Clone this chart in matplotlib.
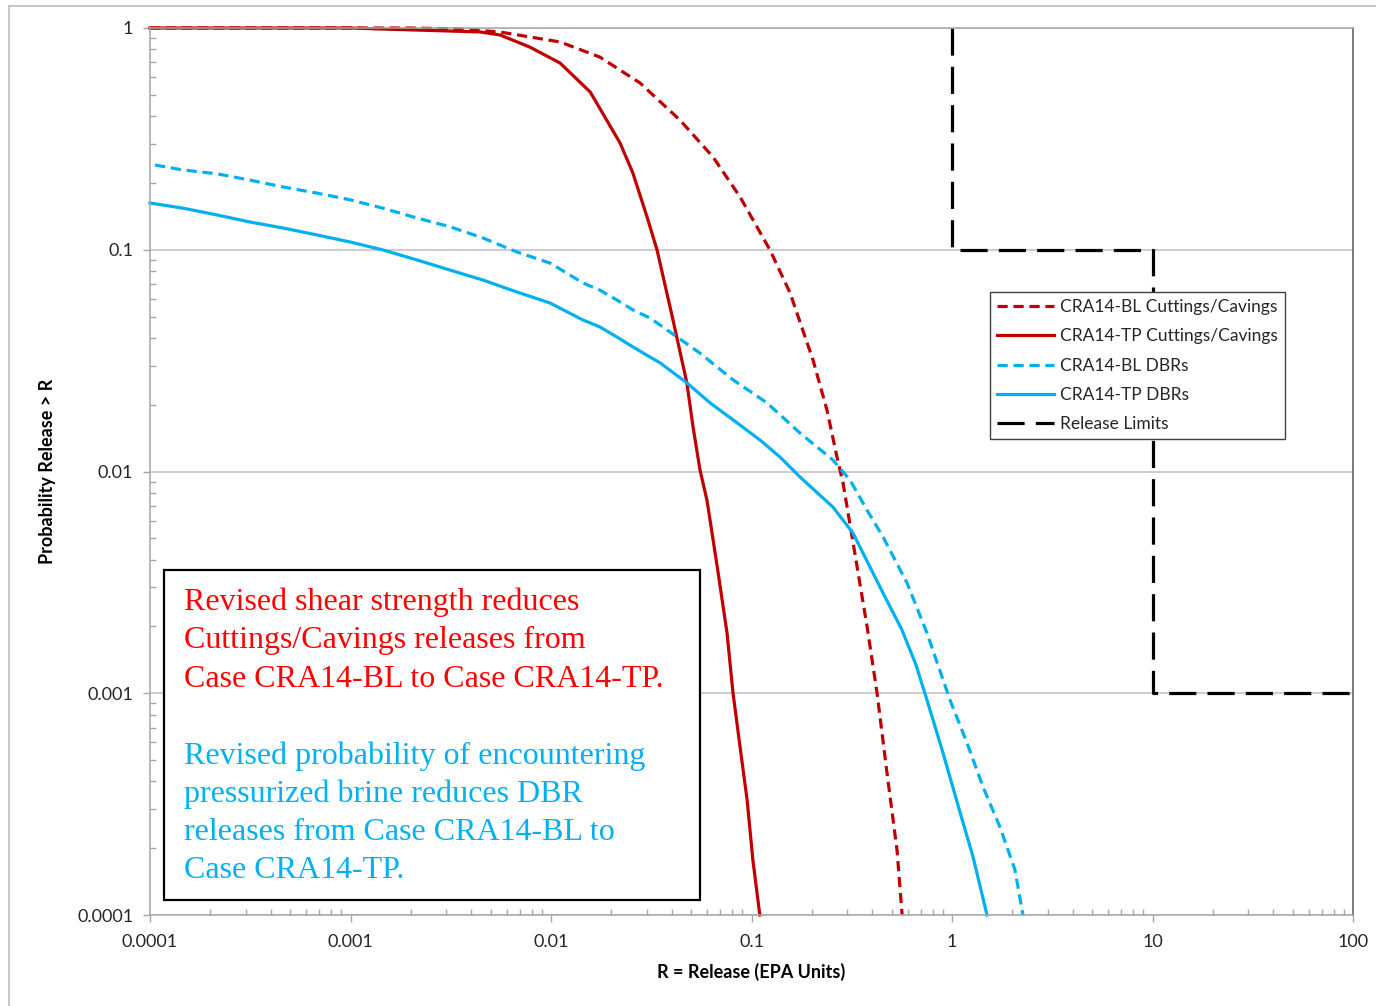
import numpy as np
import matplotlib
matplotlib.use("Agg")
import matplotlib.pyplot as plt
from matplotlib.patches import Rectangle
from matplotlib.lines import Line2D
from matplotlib.ticker import LogLocator, NullFormatter

# CCDF data
bl_cc_x = [0.0001, 0.002, 0.00352, 0.00557, 0.0111, 0.0175, 0.0278, 0.0440, 0.0643, 0.0877,
           0.1236, 0.1556, 0.2027, 0.238, 0.267, 0.286, 0.321, 0.336, 0.377, 0.423, 0.474, 0.532, 0.564]
bl_cc_y = [1.0, 1.0, 0.99, 0.959, 0.865, 0.740, 0.565, 0.384, 0.262, 0.173,
           0.0998, 0.0640, 0.0318, 0.0189, 0.0116, 0.0089, 0.00478, 0.00373, 0.0020, 0.0010, 0.000437, 0.000196, 0.0001]

tp_cc_x = [0.0001, 0.001, 0.0014, 0.00443, 0.00557, 0.00785, 0.0111, 0.0157, 0.0221, 0.0256, 0.0301,
           0.0338, 0.0406, 0.0476, 0.0511, 0.0553, 0.0600, 0.0675, 0.0755, 0.0809, 0.0877, 0.0951, 0.1016, 0.110]
tp_cc_y = [1.0, 1.0, 0.99, 0.96, 0.93, 0.82, 0.695, 0.514, 0.303, 0.222, 0.141,
           0.0998, 0.0482, 0.0251, 0.0159, 0.0102, 0.0074, 0.00371, 0.00187, 0.0010, 0.000573, 0.00033, 0.000177, 0.0001]

bl_dbr_x = [0.000106, 0.000146, 0.000216, 0.000315, 0.00046, 0.000681, 0.000995, 0.00145, 0.00215, 0.00313,
            0.00458, 0.00676, 0.00989, 0.01445, 0.0175, 0.02133, 0.02566, 0.0312, 0.0379, 0.0553, 0.0809,
            0.1194, 0.1746, 0.2548, 0.3097, 0.3767, 0.4529, 0.597, 0.750, 0.977, 1.188, 1.428, 1.735, 2.06, 2.259]
bl_dbr_y = [0.241, 0.229, 0.220, 0.206, 0.192, 0.180, 0.168, 0.154, 0.139, 0.127,
            0.113, 0.0977, 0.0871, 0.0708, 0.0658, 0.0593, 0.0535, 0.0492, 0.0435, 0.0342, 0.0259,
            0.0204, 0.0149, 0.01127, 0.00916, 0.0067, 0.00507, 0.00314, 0.00187, 0.000933, 0.000597, 0.000378, 0.000249, 0.000160, 0.0001]

tp_dbr_x = [0.0001, 0.000146, 0.000216, 0.000315, 0.00046, 0.000681, 0.000995, 0.00145, 0.00215, 0.00313,
            0.00458, 0.00676, 0.00989, 0.01445, 0.0175, 0.02133, 0.0257, 0.0312, 0.035, 0.0476, 0.0621,
            0.0809, 0.1102, 0.1387, 0.1746, 0.2548, 0.3206, 0.4529, 0.56, 0.66, 0.750, 0.902, 1.097, 1.273, 1.495]
tp_dbr_y = [0.1625, 0.154, 0.1435, 0.1334, 0.1254, 0.1166, 0.1084, 0.0998, 0.0899, 0.081,
            0.073, 0.0645, 0.0575, 0.0482, 0.0449, 0.0404, 0.0364, 0.0328, 0.0309, 0.0251, 0.0204,
            0.0171, 0.01387, 0.01162, 0.00944, 0.00691, 0.00528, 0.00283, 0.00195, 0.00135, 0.000933, 0.000538, 0.00029, 0.000183, 0.0001]

limit_x = [1, 1, 10, 10, 100]
limit_y = [1, 0.1, 0.1, 0.001, 0.001]

xticks = [0.0001, 0.001, 0.01, 0.1, 1, 10, 100]
xticklabels = ["0.0001", "0.001", "0.01", "0.1", "1", "10", "100"]
yticks = [0.0001, 0.001, 0.01, 0.1, 1]
yticklabels = ["0.0001", "0.001", "0.01", "0.1", "1"]

red = "#C00000"
blue = "#00B0F0"
sans = "Lato"

fig = plt.figure(figsize=(13.76, 10.06), dpi=100)
ax = fig.add_axes([150/1376, 91/1006, 1203/1376, 887/1006])

lw = 2.3
ax.plot(bl_cc_x, bl_cc_y, color=red, lw=lw, ls=(0, (3.2, 1.8)), label="CRA14-BL Cuttings/Cavings", clip_on=False)
ax.plot(tp_cc_x, tp_cc_y, color=red, lw=lw, label="CRA14-TP Cuttings/Cavings", clip_on=False)
ax.plot(bl_dbr_x, bl_dbr_y, color=blue, lw=lw, ls=(0, (3.2, 1.8)), label="CRA14-BL DBRs", clip_on=False)
ax.plot(tp_dbr_x, tp_dbr_y, color=blue, lw=lw, label="CRA14-TP DBRs", clip_on=False)
ax.plot(limit_x, limit_y, color="black", lw=lw, ls=(0, (8.5, 3.5)), label="Release Limits", clip_on=False)

ax.set_xscale("log")
ax.set_yscale("log")
ax.set_xlim(0.0001, 100)
ax.set_ylim(0.0001, 1)

ax.set_xticks(xticks)
ax.set_xticklabels(xticklabels, fontfamily=sans, fontsize=13, color="#262626")
ax.set_yticks(yticks)
ax.set_yticklabels(yticklabels, fontfamily=sans, fontsize=13, color="#262626")
ax.xaxis.set_minor_locator(LogLocator(base=10, subs=np.arange(2, 10), numticks=20))
ax.yaxis.set_minor_locator(LogLocator(base=10, subs=np.arange(2, 10), numticks=20))
ax.xaxis.set_minor_formatter(NullFormatter())
ax.yaxis.set_minor_formatter(NullFormatter())

tick_col = "#a6a6a6"
ax.tick_params(which="major", direction="out", length=5, width=1, color=tick_col, pad=7)
ax.tick_params(which="minor", direction="in", length=4.5, width=1, color=tick_col)
ax.tick_params(axis="x", which="major", pad=9)

ax.grid(True, which="major", axis="y", color="#bfbfbf", lw=1.1)
ax.set_axisbelow(True)
for s in ["left", "bottom", "top"]:
    ax.spines[s].set_color(tick_col)
    ax.spines[s].set_linewidth(1.1)
ax.spines["right"].set_color("#595959")
ax.spines["right"].set_linewidth(1.1)

ax.set_xlabel("R = Release (EPA Units)", fontfamily=sans, fontweight="bold", fontsize=13)
ax.xaxis.set_label_coords(0.5, -0.064)
ax.xaxis.label.set_va("center")
ax.set_ylabel("Probability Release > R", fontfamily=sans, fontweight="bold", fontsize=13)
ax.yaxis.set_label_coords(-0.0848, 0.5)
ax.yaxis.label.set_va("center")
ax.yaxis.label.set_ha("center")

leg = ax.legend(loc="upper left", bbox_to_anchor=(0.698, 0.7024), borderaxespad=0,
                prop={"family": sans, "size": 12.5}, fancybox=False, framealpha=1,
                edgecolor="#404040", handlelength=3.3, handletextpad=0.35,
                labelspacing=0.77, borderpad=0.4)
leg.get_frame().set_linewidth(1.0)
for t in leg.get_texts():
    t.set_color("#262626")

# annotation box
ax.add_patch(Rectangle((0.0116, 0.0169), 0.4456, 0.3721, transform=ax.transAxes,
                       facecolor="white", edgecolor="black", lw=1.6, zorder=5))
red_lines = ["Revised shear strength reduces",
             "Cuttings/Cavings releases from",
             "Case CRA14-BL to Case CRA14-TP."]
blue_lines = ["Revised probability of encountering",
              "pressurized brine reduces DBR",
              "releases from Case CRA14-BL to",
              "Case CRA14-TP."]
red_base = [610, 648, 687]
blue_base = [764, 802, 840, 878]
for txt, b in zip(red_lines, red_base):
    ax.text(0.0283, (915 - b) / 887, txt, transform=ax.transAxes, color="#FF0000",
            fontfamily="Liberation Serif", fontsize=23, va="baseline", zorder=6)
for txt, b in zip(blue_lines, blue_base):
    ax.text(0.0283, (915 - b) / 887, txt, transform=ax.transAxes, color=blue,
            fontfamily="Liberation Serif", fontsize=23, va="baseline", zorder=6)

# outer chart border
fig.add_artist(Line2D([9/1376, 9/1376], [0, 1 - 6/1006], color="#bfbfbf", lw=1.2, transform=fig.transFigure))
fig.add_artist(Line2D([9/1376, 1], [1 - 6/1006, 1 - 6/1006], color="#bfbfbf", lw=1.2, transform=fig.transFigure))

fig.savefig("out.png", dpi=100)
